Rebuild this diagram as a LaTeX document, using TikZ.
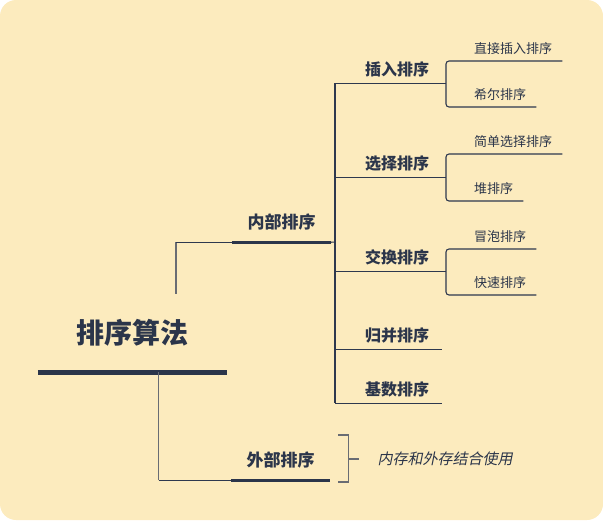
\documentclass[tikz,border=0pt]{standalone}
\usepackage{fontspec}
\setmainfont{Noto Sans CJK SC}
\newfontfamily\slantcjk[FakeSlant=0.2]{Noto Sans CJK SC}
\usepackage{tikz}
\usetikzlibrary{positioning, calc}

\definecolor{paper}{RGB}{252,235,190}
\definecolor{ink}{RGB}{43,53,74}
\definecolor{wire}{RGB}{46,56,78}
\definecolor{greywire}{RGB}{105,108,115}

\begin{document}
\begin{tikzpicture}[x=1pt, y=-1pt,
        roottopic/.style={minimum width=189pt, minimum height=78pt, inner sep=0pt,
                font=\fontsize{28}{30}\selectfont\bfseries, text=ink},
        maintopic/.style={minimum width=99pt, minimum height=40pt, inner sep=0pt,
                font=\fontsize{17}{19}\selectfont\bfseries, text=ink},
        subtopic/.style={minimum height=28pt, inner sep=0pt,
                font=\fontsize{16}{18}\selectfont\bfseries, text=ink},
        leaf/.style={anchor=south west, minimum height=24pt, inner xsep=10pt, inner ysep=0pt,
                font=\fontsize{13}{15}\selectfont, text=ink},
        note/.style={font=\fontsize{15}{17}\selectfont\slantcjk, text=ink},
        bar/.style={line width=5pt, draw=ink},
        thinbar/.style={line width=3.2pt, draw=ink},
        link/.style={line width=1.1pt, draw=wire},
        greylink/.style={line width=1.1pt, draw=greywire},
        bracket/.style={link, rounded corners=3pt}
    ]

    % background
    \useasboundingbox (0,0) rectangle (603,520);
    \fill[paper, rounded corners=16pt] (0,0) rectangle (603,520);

    % ---------------------------------------------------------------
    % TOPICS
    % ---------------------------------------------------------------
    \node[roottopic] (root) at (132.5,333) {排序算法};
    \node[maintopic] (inner) at (281.5,222) {内部排序};
    \node[maintopic] (outer) at (280.5,460) {外部排序};

    \coordinate (spine) at (335,242);
    \coordinate (bk) at (446,0);

    % second level
    \node[subtopic] (insert) at (397,69) {插入排序};
    \node[subtopic] (select) at (397,163) {选择排序};
    \node[subtopic] (swap) at (397,257) {交换排序};
    \node[subtopic] (merge) at (397,335) {归并排序};
    \node[subtopic] (radix) at (397,389) {基数排序};

    % leaves
    \node[leaf] (direct) at (464,61) {直接插入排序};
    \node[leaf] (shell) at (464,107) {希尔排序};
    \node[leaf] (simple) at (464,154) {简单选择排序};
    \node[leaf] (heap) at (464,201) {堆排序};
    \node[leaf] (bubble) at (464,249) {冒泡排序};
    \node[leaf] (quick) at (464,295) {快速排序};

    \node[note] (mem) at (445,459) {内存和外存结合使用};

    % ---------------------------------------------------------------
    % BARS AND CONNECTORS
    % ---------------------------------------------------------------
    \draw[bar] (root.south west) -- (root.south east);
    \draw[thinbar] (inner.south west) -- (inner.south east);
    \draw[thinbar] (outer.south west) -- (outer.south east);

    \draw[greylink] ([xshift=43.5pt]root.north) -- ([xshift=43.5pt]root.north |- inner.south);
    \draw[link] ([xshift=43.5pt]root.north |- inner.south) -- (inner.south west);
    \draw[greylink] ([xshift=26pt]root.south) -- ([xshift=26pt]root.south |- outer.south);
    \draw[link] ([xshift=26pt]root.south |- outer.south) -- (outer.south west);

    % spine
    \draw[link] (inner.south east) -- (spine);
    \draw[link] (insert.south -| spine) -- (radix.south -| spine);
    \draw[link] (insert.south -| spine) -- (insert.south -| bk);
    \draw[link] (select.south -| spine) -- (select.south -| bk);
    \draw[link] (swap.south -| spine) -- (swap.south -| bk);
    \draw[link] (merge.south -| spine) -- ([xshift=45pt]merge.south);
    \draw[link] (radix.south -| spine) -- ([xshift=45pt]radix.south);

    % leaf brackets
    \draw[bracket] (direct.south east) -- (direct.south east -| bk) -- (shell.south east -| bk) -- (shell.south east);
    \draw[bracket] (simple.south east) -- (simple.south east -| bk) -- (heap.south east -| bk) -- (heap.south east);
    \draw[bracket] (bubble.south east) -- (bubble.south east -| bk) -- (quick.south east -| bk) -- (quick.south east);

    % summary bracket
    \draw[greylink] ([shift={(8,-25)}]outer.east) -- ([shift={(18,-25)}]outer.east)
        -- ([shift={(18,22)}]outer.east) -- ([shift={(8,22)}]outer.east);
    \draw[greylink] ([shift={(18,-1)}]outer.east) -- ([shift={(29,-1)}]outer.east);

\end{tikzpicture}
\end{document}
